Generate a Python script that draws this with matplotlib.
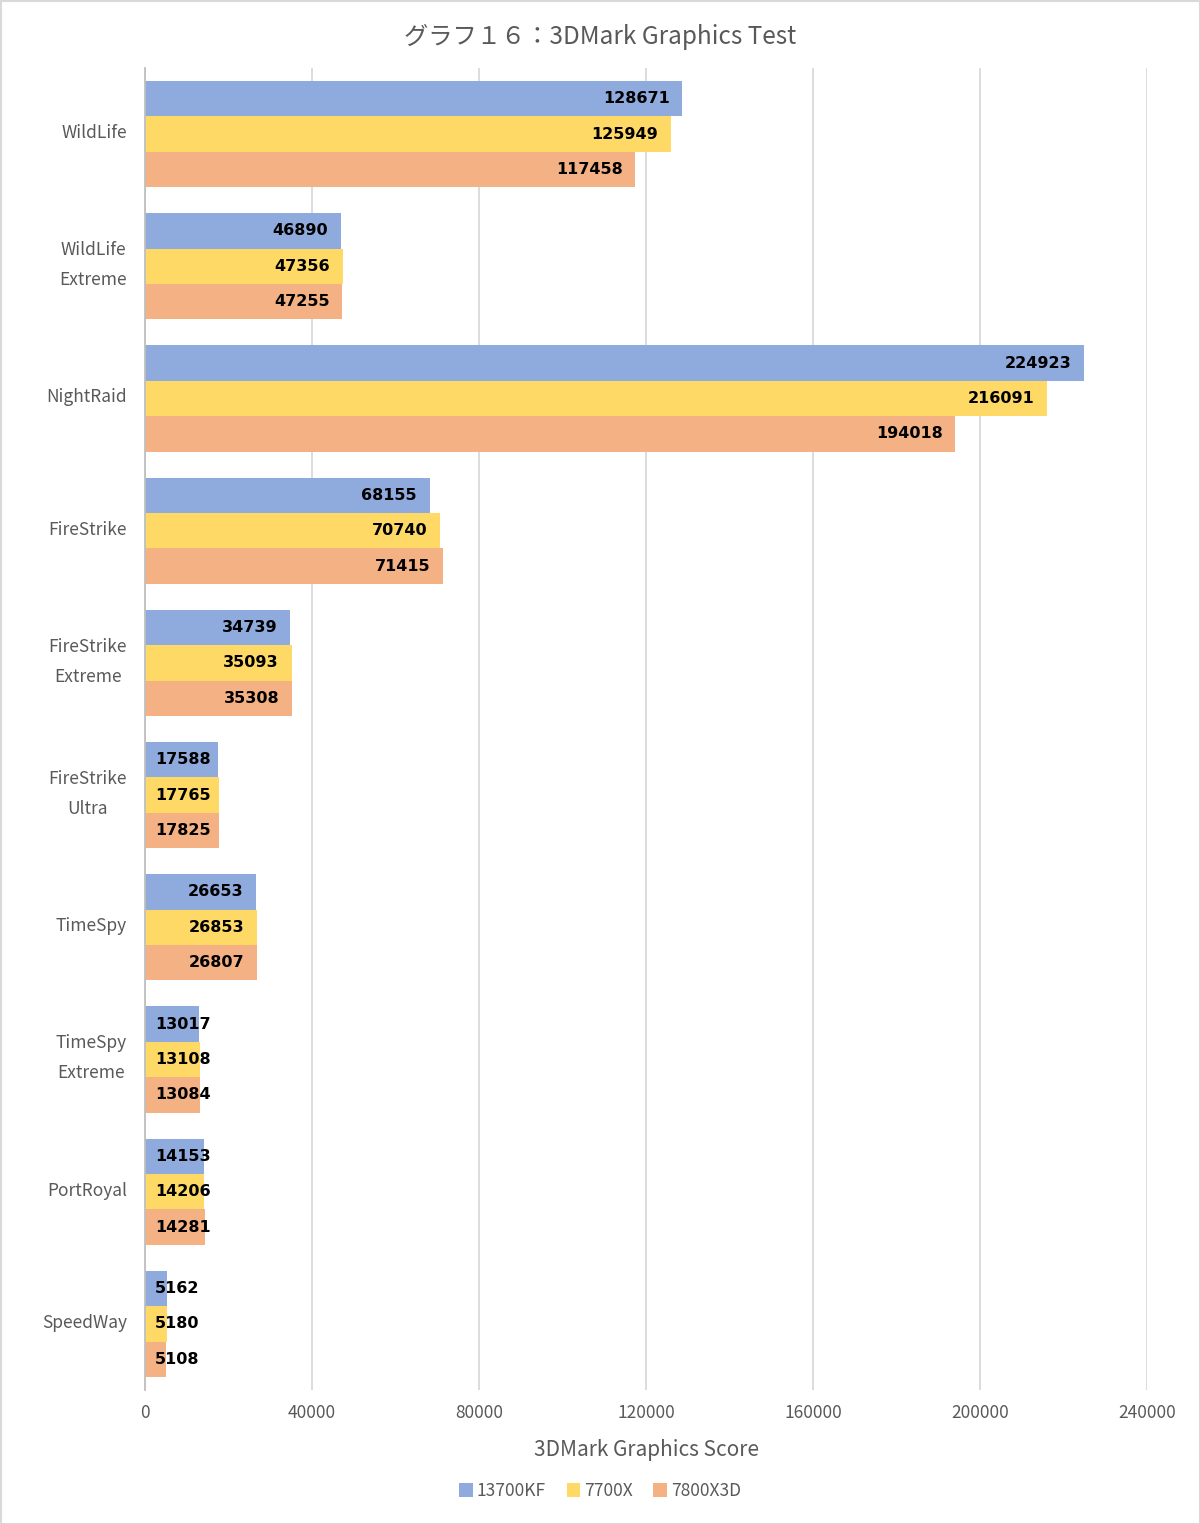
import matplotlib
matplotlib.use("Agg")
import matplotlib.pyplot as plt
from matplotlib.patches import Rectangle
import matplotlib.transforms as mtransforms
import numpy as np

plt.rcParams['font.family'] = ['Noto Sans CJK JP', 'DejaVu Sans']

categories = ["WildLife", "WildLife\nExtreme", "NightRaid", "FireStrike", "FireStrike\nExtreme",
              "FireStrike\nUltra", "TimeSpy", "TimeSpy\nExtreme", "PortRoyal", "SpeedWay"]
series_names = ["13700KF", "7700X", "7800X3D"]
s13700kf = [128671, 46890, 224923, 68155, 34739, 17588, 26653, 13017, 14153, 5162]
s7700x = [125949, 47356, 216091, 70740, 35093, 17765, 26853, 13108, 14206, 5180]
s7800x3d = [117458, 47255, 194018, 71415, 35308, 17825, 26807, 13084, 14281, 5108]
xticks = [0, 40000, 80000, 120000, 160000, 200000, 240000]
colors = ["#8FAADC", "#FFD966", "#F4B183"]

W, H = 1200, 1524
fig = plt.figure(figsize=(W/100, H/100), dpi=100)
ax = fig.add_axes([145/W, 1 - 1390/H, (1147-145)/W, (1390-68)/H])

y = np.arange(len(categories))
bh = 0.268
for i, (vals, c) in enumerate(zip([s13700kf, s7700x, s7800x3d], colors)):
    pos = y + (i - 1) * bh
    ax.barh(pos, vals, height=bh, color=c, label=series_names[i], zorder=2)
    for p, v in zip(pos, vals):
        if v < 18000:
            ax.text(2400, p, f"{v}", ha='left', va='center', fontsize=11.5,
                    family='DejaVu Sans', fontweight='bold', color='black', zorder=3)
        else:
            ax.text(v - 3000, p, f"{v}", ha='right', va='center', fontsize=11.5,
                    family='DejaVu Sans', fontweight='bold', color='black', zorder=3)

ax.set_ylim(len(categories) - 0.5, -0.5)
ax.set_xlim(0, 240000)
ax.set_xticks(xticks)
ax.set_xticklabels([str(t) for t in xticks])
ax.set_yticks(y)
ax.set_yticklabels(categories, linespacing=1.85)
ax.tick_params(axis='both', length=0, labelsize=12.5, colors='#595959')
ax.tick_params(axis='x', pad=10)
ax.tick_params(axis='y', pad=18)
for lbl, cat in zip(ax.get_yticklabels(), categories):
    lbl.set_multialignment('center')
    dy = 9 if "\n" in cat else 3
    lbl.set_transform(lbl.get_transform() + mtransforms.ScaledTranslation(7/100, dy/100, fig.dpi_scale_trans))
ax.grid(axis='x', color='#D9D9D9', linewidth=1.3, zorder=0)
ax.set_axisbelow(True)
for s in ['top', 'right', 'bottom']:
    ax.spines[s].set_visible(False)
ax.spines['left'].set_color('#BFBFBF')
ax.spines['left'].set_linewidth(1.3)

ax.set_xlabel("3DMark Graphics Score", fontsize=15, color='#595959', labelpad=12)
fig.text(0.5, 1 - 37/H, "グラフ１６：3DMark Graphics Test", ha='center', va='center',
         fontsize=17.5, color='#595959')

fig.legend(loc='center', bbox_to_anchor=(0.5, 1 - 1491/H), ncol=3, frameon=False,
           fontsize=12.5, handlelength=0.8, handleheight=0.8, handletextpad=0.2,
           columnspacing=1.2, labelcolor='#595959')

fig.patches.append(Rectangle((0.5/W, 0.5/H), 1 - 1/W, 1 - 1/H, transform=fig.transFigure,
                             fill=False, edgecolor='#D9D9D9', linewidth=1.5))

fig.savefig("out.png", dpi=100)
